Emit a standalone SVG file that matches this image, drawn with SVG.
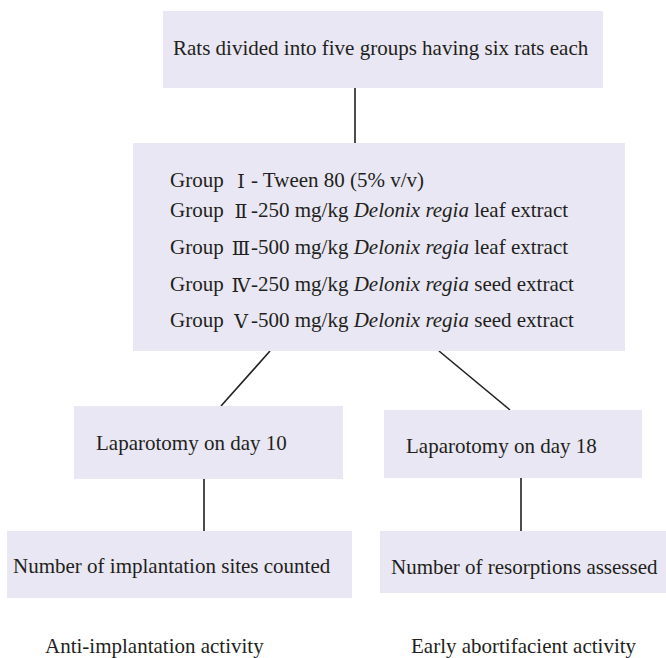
<svg xmlns="http://www.w3.org/2000/svg" width="666" height="658" viewBox="0 0 666 658">
<style>
  .box { fill: #e9e7f3; }
  .t { font-family: "Liberation Serif", "Noto Sans CJK SC", serif; font-size: 21px; fill: #231f20; }
  .num { font-family: "DejaVu Serif", "Noto Sans CJK SC", serif; font-size: 19px; fill: #231f20; text-anchor: middle; }
  .it { font-style: italic; }
  .conn line { stroke: #231f20; stroke-width: 1.6; }
</style>
<rect width="666" height="658" fill="#ffffff"/>
<g class="conn" id="connectors">
  <line x1="355" y1="88" x2="355" y2="143"/>
  <line x1="270" y1="351" x2="221" y2="406"/>
  <line x1="439" y1="351" x2="510" y2="410"/>
  <line x1="204" y1="479" x2="204" y2="531"/>
  <line x1="521" y1="478" x2="521" y2="531"/>
</g>
<g id="start">
  <rect class="box" x="163" y="11" width="440" height="77"/>
  <text class="t" x="173" y="55">Rats divided into five groups having six rats each</text>
</g>
<g id="groups">
  <rect class="box" x="133" y="143" width="492" height="208"/>
  <text class="t" x="170" y="187">Group</text>
  <text class="num" x="241" y="188">Ⅰ</text>
  <text class="t" x="251" y="187">- Tween 80 (5% v/v)</text>
  <text class="t" x="170" y="217">Group</text>
  <text class="num" x="241" y="218">Ⅱ</text>
  <text class="t" x="251" y="217">-250 mg/kg <tspan class="it">Delonix regia</tspan> leaf extract</text>
  <text class="t" x="170" y="254">Group</text>
  <text class="num" x="241" y="255">Ⅲ</text>
  <text class="t" x="251" y="254">-500 mg/kg <tspan class="it">Delonix regia</tspan> leaf extract</text>
  <text class="t" x="170" y="291">Group</text>
  <text class="num" x="241" y="292">Ⅳ</text>
  <text class="t" x="251" y="291">-250 mg/kg <tspan class="it">Delonix regia</tspan> seed extract</text>
  <text class="t" x="170" y="327">Group</text>
  <text class="num" x="241" y="328">Ⅴ</text>
  <text class="t" x="251" y="327">-500 mg/kg <tspan class="it">Delonix regia</tspan> seed extract</text>
</g>
<g id="lap10">
  <rect class="box" x="74" y="406" width="269" height="73"/>
  <text class="t" x="96" y="450">Laparotomy on day 10</text>
</g>
<g id="lap18">
  <rect class="box" x="384" y="410" width="258" height="68"/>
  <text class="t" x="406" y="453">Laparotomy on day 18</text>
</g>
<g id="implant">
  <rect class="box" x="7" y="531" width="345" height="67"/>
  <text class="t" x="13" y="573">Number of implantation sites counted</text>
</g>
<g id="resorp">
  <rect class="box" x="380" y="531" width="286" height="62"/>
  <text class="t" x="391" y="574">Number of resorptions assessed</text>
</g>
<g id="label-anti">
  <text class="t" x="45" y="653">Anti-implantation activity</text>
</g>
<g id="label-early">
  <text class="t" x="411" y="653">Early abortifacient activity</text>
</g>
</svg>
